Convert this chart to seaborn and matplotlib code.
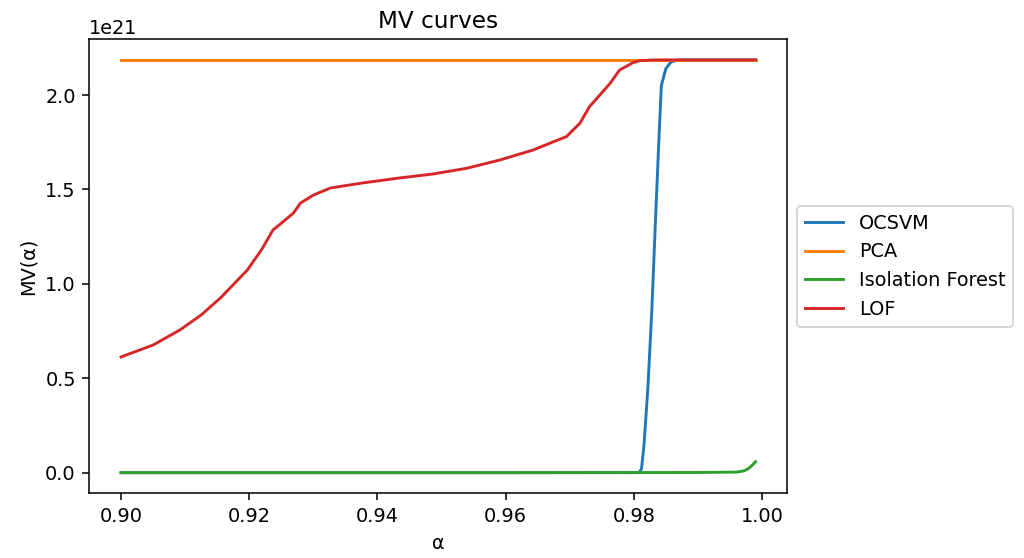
import numpy as np
import pandas as pd
import matplotlib
matplotlib.use("Agg")
import matplotlib.pyplot as plt
import seaborn as sns

# ---- data (values in units of 1e21) ----
series_names = ["OCSVM", "PCA", "Isolation Forest", "LOF"]

ocsvm_alpha = [0.900, 0.930, 0.960, 0.9808, 0.9812, 0.9816, 0.9822, 0.9828, 0.9834,
               0.9839, 0.9843, 0.9850, 0.9858, 0.9870, 0.9900, 0.9950, 0.9990]
ocsvm_mv = [0.0, 0.0, 0.0, 0.0, 0.02, 0.15, 0.45, 0.85, 1.35,
            1.75, 2.05, 2.14, 2.175, 2.186, 2.186, 2.186, 2.186]

pca_alpha = [0.900, 0.999]
pca_mv = [2.186, 2.186]

iforest_alpha = [0.900, 0.930, 0.960, 0.990, 0.9960, 0.9970, 0.9975, 0.9980, 0.9985, 0.9990]
iforest_mv = [0.0, 0.0, 0.0, 0.001, 0.003, 0.008, 0.014, 0.025, 0.040, 0.058]

lof_alpha = [0.900, 0.905, 0.9092, 0.9125, 0.9155, 0.9197, 0.9220, 0.9237, 0.9255,
             0.9269, 0.9280, 0.9300, 0.9327, 0.9378, 0.9435, 0.9487, 0.9539,
             0.9591, 0.9643, 0.9669, 0.9695, 0.9716, 0.9731, 0.9747, 0.9763,
             0.9778, 0.9799, 0.9809, 0.9830, 0.9900, 0.9990]
lof_mv = [0.613, 0.676, 0.756, 0.835, 0.925, 1.073, 1.185, 1.285, 1.335,
          1.375, 1.428, 1.470, 1.508, 1.535, 1.561, 1.582, 1.612,
          1.656, 1.709, 1.745, 1.780, 1.851, 1.939, 2.000, 2.062,
          2.133, 2.172, 2.182, 2.186, 2.186, 2.186]

frames = []
for name, a, v in [("OCSVM", ocsvm_alpha, ocsvm_mv),
                   ("PCA", pca_alpha, pca_mv),
                   ("Isolation Forest", iforest_alpha, iforest_mv),
                   ("LOF", lof_alpha, lof_mv)]:
    frames.append(pd.DataFrame({"alpha": a, "mv": np.array(v) * 1e21, "model": name}))
df = pd.concat(frames, ignore_index=True)

DPI = 139
fig = plt.figure(figsize=(1024 / DPI, 558 / DPI), dpi=DPI)
ax = fig.add_axes([89.3 / 1024, 1 - 493.3 / 558, (787.3 - 89.3) / 1024, (493.3 - 39.3) / 558])

sns.lineplot(data=df, x="alpha", y="mv", hue="model", hue_order=series_names,
             palette=sns.color_palette("tab10", 4), estimator=None, sort=False,
             linewidth=1.5, ax=ax)

ax.set_title("MV curves", fontsize=12)
ax.set_xlabel("α")
ax.set_ylabel("MV(α)")
ax.set_xticks([0.90, 0.92, 0.94, 0.96, 0.98, 1.00])
ax.set_yticks(np.array([0.0, 0.5, 1.0, 1.5, 2.0]) * 1e21)
handles, labels = ax.get_legend_handles_labels()
ax.legend(handles, labels, loc="center left", bbox_to_anchor=(1, 0.5))

fig.savefig("out.png", dpi=DPI)
